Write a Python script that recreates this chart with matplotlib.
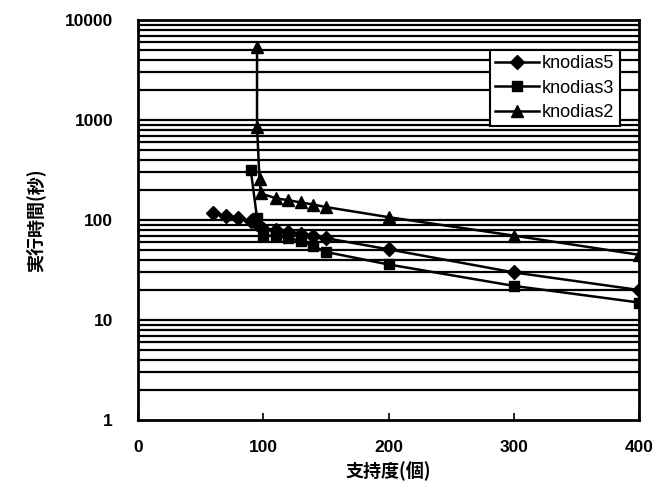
import numpy as np
import matplotlib
matplotlib.use('Agg')
import matplotlib.pyplot as plt

plt.rcParams['font.family'] = ['Liberation Sans', 'Noto Sans CJK JP', 'DejaVu Sans']

# データ
x5 = [60, 70, 80, 90, 95, 100, 110, 120, 130, 140, 150, 200, 300, 400]
y5 = [117, 110, 105, 97, 92, 82, 80, 76, 73, 70, 66, 51, 30, 20]
x3 = [90, 95, 100, 110, 120, 130, 140, 150, 200, 300, 400]
y3 = [316, 105, 70, 70, 66, 62, 55, 48, 36, 22, 15]
x2 = [95, 95, 97, 98, 110, 120, 130, 140, 150, 200, 300, 400]
y2 = [5400, 860, 255, 185, 165, 158, 150, 143, 135, 107, 70, 45]
labels = ['knodias5', 'knodias3', 'knodias2']
xticks = [0, 100, 200, 300, 400]
yticks = [1, 10, 100, 1000, 10000]

fig = plt.figure(figsize=(6.67, 4.88), dpi=100)
ax = fig.add_axes([0.207, 0.139, 0.751, 0.820])

ax.set_yscale('log')
ax.set_xlim(0, 400)
ax.set_ylim(1, 10000)

# 横グリッド（各目盛り）
for d in [1, 10, 100, 1000]:
    for k in range(2, 10):
        ax.axhline(d * k, color='black', lw=1.6, zorder=1)
for v in [10, 100, 1000]:
    ax.axhline(v, color='black', lw=1.6, zorder=1)

ax.plot(x5, y5, color='black', lw=1.8, marker='D', ms=7, label=labels[0], zorder=3)
ax.plot(x3, y3, color='black', lw=1.8, marker='s', ms=7, label=labels[1], zorder=3)
ax.plot(x2, y2, color='black', lw=1.8, marker='^', ms=8, label=labels[2], zorder=3)

ax.set_xticks(xticks)
ax.set_xticklabels([str(t) for t in xticks])
ax.set_yticks(yticks)
ax.set_yticklabels([str(t) for t in yticks])
ax.yaxis.set_minor_locator(matplotlib.ticker.NullLocator())
ax.tick_params(axis='y', length=0, pad=18, labelsize=12.5)
ax.tick_params(axis='x', direction='in', length=5, width=1.2, pad=14, labelsize=12.5)
for lab in ax.get_xticklabels() + ax.get_yticklabels():
    lab.set_fontweight('bold')

for s in ax.spines.values():
    s.set_linewidth(2)

ax.set_xlabel('支持度(個)', fontsize=13, fontweight='bold',
              family=['Noto Sans CJK JP', 'DejaVu Sans'], labelpad=5)
ax.set_ylabel('実行時間(秒)', fontsize=13, fontweight='bold',
              family=['Noto Sans CJK JP', 'DejaVu Sans'], labelpad=14)

leg = ax.legend(loc='upper right', bbox_to_anchor=(0.962, 0.925), fontsize=13,
                frameon=True, fancybox=False, edgecolor='black', framealpha=1,
                borderpad=0.3, labelspacing=0.4, handlelength=2.4, handletextpad=0.2,
                borderaxespad=0)
leg.get_frame().set_linewidth(1.5)

fig.savefig('out.png', dpi=100)
